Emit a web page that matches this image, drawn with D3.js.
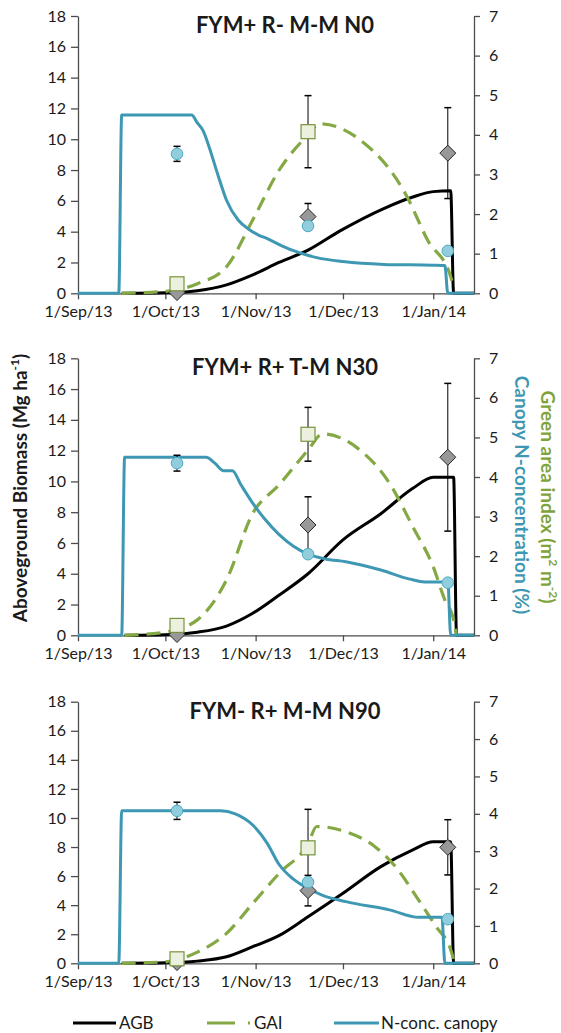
<!DOCTYPE html>
<html>
<head>
<meta charset="utf-8">
<title>Biomass, GAI and canopy N</title>
<script src="https://d3js.org/d3.v7.min.js"></script>
<style>
  body { margin: 0; background: #fff; }
  text { font-family: Lato, "Open Sans", sans-serif; fill: #1a1a1a; }
</style>
</head>
<body>
<script>
// ---- data ----
var titles = ["FYM+ R- M-M N0", "FYM+ R+ T-M N30", "FYM- R+ M-M N90"];
var monthTicks = ["2013-09-01", "2013-10-01", "2013-11-01", "2013-12-01", "2014-01-01"];
var leftTicks = [0, 2, 4, 6, 8, 10, 12, 14, 16, 18];
var rightTicks = [0, 1, 2, 3, 4, 5, 6, 7];
var obsDates = ["2013-10-05", "2013-11-19", "2014-01-06"];

// simulated aboveground biomass (Mg/ha, left axis)
var agbN0 = [["2013-09-16",0],["2013-10-01",0.03],["2013-10-12",0.17],["2013-10-22",0.55],["2013-10-31",1.2],["2013-11-09",2.0],["2013-11-19",2.8],["2013-11-30",4.05],["2013-12-15",5.5],["2013-12-25",6.25],["2014-01-01",6.6],["2014-01-07",6.65],["2014-01-08",0],["2014-01-15",0]];
var agbN30 = [["2013-09-17",0],["2013-10-01",0.03],["2013-10-12",0.2],["2013-10-22",0.6],["2013-10-31",1.43],["2013-11-09",2.6],["2013-11-19",4.0],["2013-12-01",6.2],["2013-12-14",7.9],["2013-12-25",9.55],["2014-01-01",10.27],["2014-01-08",10.27],["2014-01-09",0],["2014-01-15",0]];
var agbN90 = [["2013-09-16",0],["2013-10-01",0.03],["2013-10-12",0.15],["2013-10-22",0.45],["2013-10-31",1.14],["2013-11-09",1.9],["2013-11-19",3.2],["2013-12-01",4.82],["2013-12-14",6.65],["2013-12-25",7.8],["2014-01-01",8.37],["2014-01-07",8.37],["2014-01-08",0],["2014-01-15",0]];

// simulated green area index (m2/m2, right axis)
var gaiN0 = [["2013-09-16",0],["2013-10-01",0.05],["2013-10-12",0.24],["2013-10-22",0.67],["2013-10-31",1.85],["2013-11-09",3.1],["2013-11-19",4.0],["2013-11-23",4.28],["2013-12-06",3.92],["2013-12-23",2.44],["2013-12-30",1.35],["2014-01-07",0.42],["2014-01-08",0.15]];
var gaiN30 = [["2013-09-17",0],["2013-10-01",0.08],["2013-10-12",0.39],["2013-10-22",1.4],["2013-10-31",3.08],["2013-11-09",3.8],["2013-11-19",4.68],["2013-11-24",5.09],["2013-12-06",4.73],["2013-12-17",3.84],["2013-12-25",2.74],["2014-01-01",1.73],["2014-01-05",0.89],["2014-01-08",0.39],["2014-01-09",0]];
var gaiN90 = [["2013-09-16",0],["2013-10-01",0.04],["2013-10-12",0.3],["2013-10-22",0.8],["2013-10-31",1.6],["2013-11-09",2.4],["2013-11-19",3.2],["2013-11-22",3.66],["2013-12-02",3.52],["2013-12-12",3.12],["2013-12-19",2.59],["2013-12-27",1.69],["2014-01-02",0.98],["2014-01-07",0.36],["2014-01-08",0.1]];

// simulated canopy N concentration (%, right axis)
var nN0 = [["2013-09-01",0],["2013-09-15",0],["2013-09-16",4.5],["2013-10-10",4.5],["2013-10-12",4.3],["2013-10-14",4.1],["2013-10-16",3.7],["2013-10-19",3.0],["2013-10-22",2.35],["2013-10-26",1.85],["2013-10-30",1.6],["2013-11-02",1.47],["2013-11-05",1.38],["2013-11-10",1.2],["2013-11-15",1.05],["2013-11-22",0.9],["2013-12-01",0.8],["2013-12-15",0.73],["2014-01-01",0.71],["2014-01-05",0.7],["2014-01-06",0],["2014-01-15",0]];
var nN30 = [["2013-09-01",0],["2013-09-16",0],["2013-09-17",4.5],["2013-10-15",4.5],["2013-10-18",4.35],["2013-10-21",4.16],["2013-10-24",4.16],["2013-10-27",3.8],["2013-10-31",3.34],["2013-11-04",2.95],["2013-11-09",2.55],["2013-11-14",2.25],["2013-11-19",2.05],["2013-11-25",1.93],["2013-12-02",1.86],["2013-12-14",1.65],["2013-12-24",1.42],["2013-12-29",1.35],["2014-01-06",1.35],["2014-01-07",0],["2014-01-15",0]];
var nN90 = [["2013-09-01",0],["2013-09-15",0],["2013-09-16",4.08],["2013-10-20",4.08],["2013-10-25",4.0],["2013-10-31",3.7],["2013-11-05",3.21],["2013-11-09",2.65],["2013-11-14",2.25],["2013-11-19",2.0],["2013-11-24",1.82],["2013-12-02",1.65],["2013-12-17",1.43],["2013-12-27",1.23],["2014-01-04",1.23],["2014-01-05",0],["2014-01-15",0]];

// observations (mean and error) at obsDates
var agbObsN0 = [0.05, 4.98, 9.1],  agbErrN0 = [0, 0.85, 2.95];
var agbObsN30 = [0.05, 7.17, 11.57], agbErrN30 = [0, 1.83, 4.8];
var agbObsN90 = [0.05, 5.0, 7.98], agbErrN90 = [0, 1.05, 1.9];
var gaiObsN0 = [0.24, 4.08, null], gaiErrN0 = [0, 0.91, 0];
var gaiObsN30 = [0.25, 5.08, null], gaiErrN30 = [0, 0.68, 0];
var gaiObsN90 = [0.12, 3.09, null], gaiErrN90 = [0, 1.03, 0];
var nObsN0 = [3.52, 1.7, 1.07], nErrN0 = [0.19, 0, 0];
var nObsN30 = [4.35, 2.05, 1.33], nErrN30 = [0.2, 0, 0];
var nObsN90 = [4.08, 2.17, 1.18], nErrN90 = [0.23, 0, 0];

// ---- layout ----
var W = 561, H = 1033;
var xLeft = 78, xRight = 474;
var panels = [
  { top: 16, bottom: 293.3, title: titles[0], agb: agbN0, gai: gaiN0, n: nN0,
    agbObs: agbObsN0, agbErr: agbErrN0, gaiObs: gaiObsN0, gaiErr: gaiErrN0, nObs: nObsN0, nErr: nErrN0 },
  { top: 358.3, bottom: 635.3, title: titles[1], agb: agbN30, gai: gaiN30, n: nN30,
    agbObs: agbObsN30, agbErr: agbErrN30, gaiObs: gaiObsN30, gaiErr: gaiErrN30, nObs: nObsN30, nErr: nErrN30 },
  { top: 701.7, bottom: 963.3, title: titles[2], agb: agbN90, gai: gaiN90, n: nN90,
    agbObs: agbObsN90, agbErr: agbErrN90, gaiObs: gaiObsN90, gaiErr: gaiErrN90, nObs: nObsN90, nErr: nErrN90 }
];

var cBlack = "#000", cGreen = "#84a843", cBlue = "#3f98b3", cAxis = "#4d4d4d";
var parse = d3.timeParse("%Y-%m-%d");

var svg = d3.select("body").append("svg")
  .attr("width", W).attr("height", H);

var x = d3.scaleTime()
  .domain([parse("2013-09-01"), parse("2014-01-15")])
  .range([xLeft, xRight]);

panels.forEach(function (p) {
  var yL = d3.scaleLinear().domain([0, 18]).range([p.bottom, p.top]);
  var yR = d3.scaleLinear().domain([0, 7]).range([p.bottom, p.top]);
  var g = svg.append("g");

  // axes
  var ax = g.append("g").attr("transform", "translate(0," + p.bottom + ")")
    .call(d3.axisBottom(x).tickValues(monthTicks.map(parse))
      .tickFormat(d3.timeFormat("%-d/%b/%y")).tickSize(6).tickSizeOuter(0).tickPadding(6));
  var al = g.append("g").attr("transform", "translate(" + xLeft + ",0)")
    .call(d3.axisLeft(yL).tickValues(leftTicks).tickSize(7).tickSizeOuter(0).tickPadding(5));
  var ar = g.append("g").attr("transform", "translate(" + xRight + ",0)")
    .call(d3.axisRight(yR).tickValues(rightTicks).tickFormat(d3.format("d"))
      .tickSize(6).tickSizeOuter(0).tickPadding(9));
  [ax, al, ar].forEach(function (a) {
    a.selectAll("path, line").attr("stroke", cAxis).attr("stroke-width", 1.3);
    a.selectAll("text").attr("font-size", 16).attr("fill", "#1a1a1a")
      .style("font-family", "Lato, 'Open Sans', sans-serif");
  });

  // title
  g.append("text").attr("x", 285).attr("y", p.top + 17)
    .attr("text-anchor", "middle").attr("font-size", 22).attr("font-weight", "bold")
    .text(p.title);

  // simulated lines
  var lineL = d3.line().x(function (d) { return x(parse(d[0])); })
    .y(function (d) { return yL(d[1]); }).curve(d3.curveMonotoneX);
  var lineR = d3.line().x(function (d) { return x(parse(d[0])); })
    .y(function (d) { return yR(d[1]); }).curve(d3.curveMonotoneX);

  g.append("path").datum(p.agb).attr("d", lineL)
    .attr("fill", "none").attr("stroke", cBlack).attr("stroke-width", 3);
  g.append("path").datum(p.gai).attr("d", lineR)
    .attr("fill", "none").attr("stroke", cGreen).attr("stroke-width", 3.2)
    .attr("stroke-dasharray", "14,8");
  g.append("path").datum(p.n).attr("d", lineR)
    .attr("fill", "none").attr("stroke", cBlue).attr("stroke-width", 3);

  // error bars + markers
  function errBars(vals, errs, sc) {
    obsDates.forEach(function (dt, i) {
      if (vals[i] == null || !errs[i]) return;
      var cx = x(parse(dt)), y1 = sc(vals[i] - errs[i]), y2 = sc(vals[i] + errs[i]);
      g.append("line").attr("x1", cx).attr("x2", cx).attr("y1", y1).attr("y2", y2)
        .attr("stroke", "#000").attr("stroke-width", 1);
      [y1, y2].forEach(function (yy) {
        g.append("line").attr("x1", cx - 3.5).attr("x2", cx + 3.5).attr("y1", yy).attr("y2", yy)
          .attr("stroke", "#000").attr("stroke-width", 1.5);
      });
    });
  }
  errBars(p.agbObs, p.agbErr, yL);
  errBars(p.gaiObs, p.gaiErr, yR);
  errBars(p.nObs, p.nErr, yR);

  obsDates.forEach(function (dt, i) {
    var cx = x(parse(dt));
    if (p.agbObs[i] != null) {
      var cy = yL(p.agbObs[i]);
      g.append("path").attr("transform", "translate(" + cx + "," + cy + ")")
        .attr("d", "M0,-8L8,0L0,8L-8,0Z")
        .attr("fill", "#989898").attr("stroke", "#262626").attr("stroke-width", 1);
    }
  });
  obsDates.forEach(function (dt, i) {
    var cx = x(parse(dt));
    if (p.gaiObs[i] != null) {
      var cy = yR(p.gaiObs[i]);
      g.append("rect").attr("x", cx - 7).attr("y", cy - 7).attr("width", 14).attr("height", 14)
        .attr("fill", "#ebf1de").attr("stroke", "#77933c").attr("stroke-width", 1.2);
    }
  });
  obsDates.forEach(function (dt, i) {
    var cx = x(parse(dt));
    if (p.nObs[i] != null) {
      g.append("circle").attr("cx", cx).attr("cy", yR(p.nObs[i])).attr("r", 5.8)
        .attr("fill", "#92cddc").attr("stroke", "#4bacc6").attr("stroke-width", 1);
    }
  });
});

// axis titles
var lt = svg.append("text").attr("transform", "translate(27,488) rotate(-90)")
  .attr("text-anchor", "middle").attr("font-size", 19).attr("font-weight", "bold");
lt.append("tspan").text("Aboveground Biomass (Mg ha");
lt.append("tspan").attr("font-size", 12).attr("dy", -8).text("-1");
lt.append("tspan").attr("dy", 8).text(")");

var gt = svg.append("text").attr("transform", "translate(541,497) rotate(90)")
  .attr("text-anchor", "middle").attr("font-size", 19).attr("font-weight", "bold");
gt.append("tspan").attr("fill", "#7ea33a").text("Green area index (m");
gt.append("tspan").attr("fill", "#7ea33a").attr("font-size", 12).attr("dy", -8).text("2");
gt.append("tspan").attr("fill", "#7ea33a").attr("dy", 8).text(" m");
gt.append("tspan").attr("fill", "#7ea33a").attr("font-size", 12).attr("dy", -8).text("-2");
gt.append("tspan").attr("fill", "#7ea33a").attr("dy", 8).text(")");

svg.append("text").attr("transform", "translate(515,495) rotate(90)")
  .attr("text-anchor", "middle").attr("font-size", 19).attr("font-weight", "bold")
  .attr("fill", cBlue).style("fill", cBlue).text("Canopy N-concentration (%)");

// legend
var legY = 1023;
var leg = svg.append("g");
leg.append("line").attr("x1", 73).attr("x2", 116).attr("y1", legY).attr("y2", legY)
  .attr("stroke", cBlack).attr("stroke-width", 3);
leg.append("text").attr("x", 119).attr("y", legY + 6).attr("font-size", 17).text("AGB");
leg.append("line").attr("x1", 207).attr("x2", 251).attr("y1", legY).attr("y2", legY)
  .attr("stroke", cGreen).attr("stroke-width", 3.2).attr("stroke-dasharray", "28,13,2,40");
leg.append("text").attr("x", 254).attr("y", legY + 6).attr("font-size", 17).text("GAI");
leg.append("line").attr("x1", 334).attr("x2", 379).attr("y1", legY).attr("y2", legY)
  .attr("stroke", cBlue).attr("stroke-width", 3);
leg.append("text").attr("x", 381).attr("y", legY + 6).attr("font-size", 17).text("N-conc. canopy");
</script>
</body>
</html>
